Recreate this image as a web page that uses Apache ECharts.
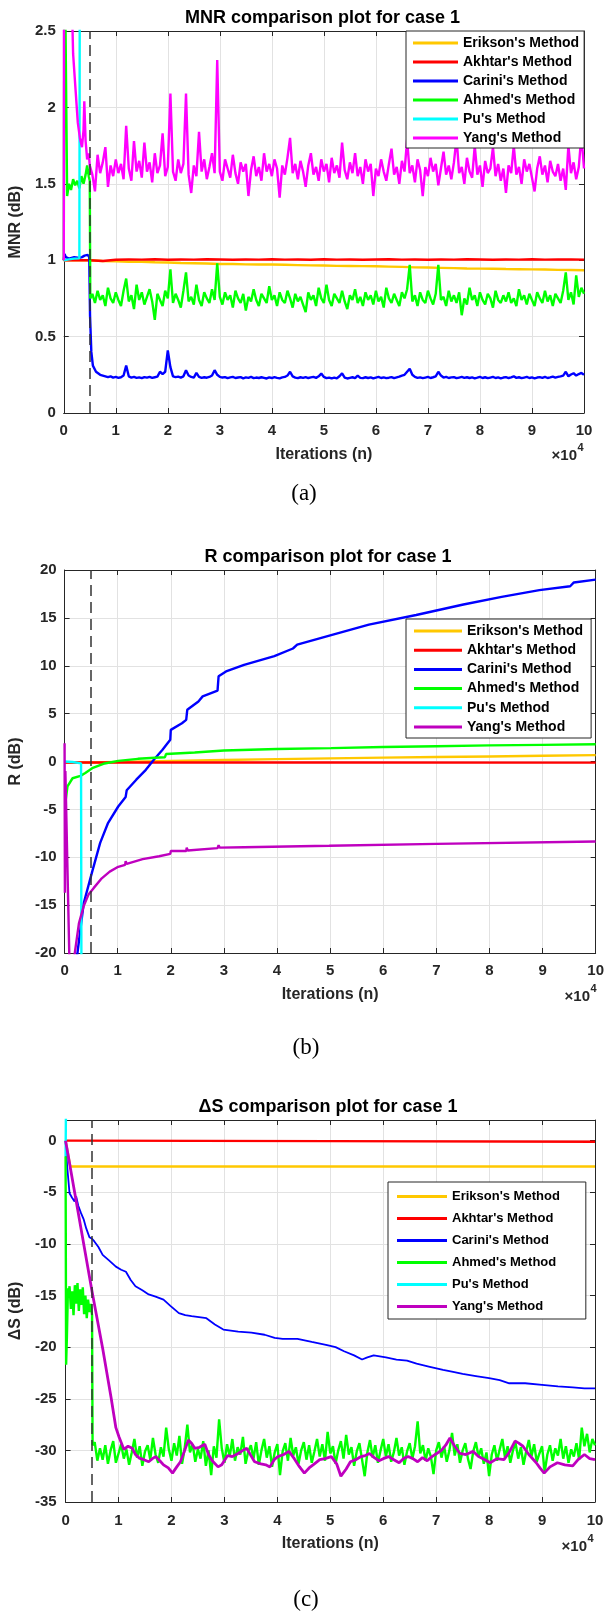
<!DOCTYPE html>
<html>
<head>
<meta charset="utf-8">
<script src="https://cdn.jsdelivr.net/npm/echarts@6/dist/echarts.min.js"></script>
<style>
  html, body { margin: 0; padding: 0; background: #fff; }
  #chart { width: 607px; height: 1611px; }
</style>
</head>
<body>
<div id="chart"></div>
<script>
// ---------- shared labels ----------
const methodNames = ["Erikson's Method", "Akhtar's Method", "Carini's Method", "Ahmed's Method", "Pu's Method", "Yang's Method"];
const panelTitles = ["MNR comparison plot for case 1", "R comparison plot for case 1", "\u0394S comparison plot for case 1"];
const yAxisNames = ["MNR (dB)", "R (dB)", "\u0394S (dB)"];
const xAxisName = "Iterations (n)";
const panelTags = ["(a)", "(b)", "(c)"];
const switchIteration = 5000;          // dashed marker
const xTickDivisor = 10000;            // labels shown as multiples of 10^4

// ---------- (a) MNR ----------
const mnrEriksonStart = 0, mnrEriksonStep = 2500;
const mnrErikson = [1.0,1.0,1.0,0.995,0.993,0.99,0.99,0.987,0.985,0.982,
  0.98,0.978,0.975,0.975,0.973,0.972,0.972,0.97,0.968,0.966,
  0.965,0.963,0.962,0.961,0.96,0.958,0.956,0.953,0.952,0.95,
  0.948,0.946,0.945,0.944,0.942,0.941,0.94,0.939,0.937,0.936,0.934];
const mnrAkhtarStart = 0, mnrAkhtarStep = 2500;
const mnrAkhtar = [1.0,1.0,1.0,0.995,1.003,1.005,1.004,1.006,1.003,1.005,
  1.004,1.006,1.005,1.003,1.005,1.004,1.006,1.004,1.005,1.003,
  1.006,1.004,1.005,1.003,1.005,1.006,1.004,1.005,1.003,1.005,
  1.004,1.006,1.005,1.003,1.005,1.004,1.006,1.004,1.005,1.005,1.004];
const mnrCariniHead = [[0,1.0],[150,1.04],[400,1.02],[1000,1.01],[2000,1.02],[3000,1.015],[3500,1.02],[4000,1.03],[4300,1.02],[4600,1.035],[4900,1.02],[5050,0.64],[5300,0.4],[5600,0.31],[6200,0.27],[7000,0.25]];
const mnrCariniStart = 7500, mnrCariniStep = 500;
const mnrCarini = [0.245,0.24,0.235,0.24,0.232,0.236,0.23,0.234,0.245,0.31,
  0.24,0.232,0.236,0.23,0.233,0.228,0.235,0.231,0.236,0.23,
  0.234,0.238,0.27,0.255,0.27,0.41,0.30,0.24,0.235,0.238,
  0.232,0.24,0.28,0.245,0.236,0.232,0.262,0.236,0.23,0.234,
  0.231,0.236,0.245,0.28,0.25,0.236,0.232,0.235,0.228,0.233,
  0.236,0.229,0.232,0.235,0.227,0.233,0.23,0.236,0.228,0.232,
  0.229,0.234,0.23,0.226,0.233,0.229,0.235,0.23,0.227,0.233,
  0.236,0.245,0.27,0.24,0.232,0.228,0.234,0.23,0.235,0.229,
  0.233,0.236,0.23,0.24,0.258,0.236,0.228,0.232,0.226,0.231,
  0.227,0.24,0.26,0.232,0.226,0.23,0.234,0.228,0.245,0.23,
  0.228,0.234,0.229,0.233,0.226,0.232,0.236,0.229,0.233,0.228,
  0.231,0.235,0.228,0.233,0.238,0.245,0.25,0.27,0.29,0.25,
  0.236,0.23,0.233,0.228,0.232,0.236,0.229,0.234,0.24,0.27,
  0.245,0.232,0.236,0.229,0.233,0.235,0.228,0.232,0.236,0.23,
  0.234,0.229,0.233,0.227,0.231,0.236,0.229,0.234,0.228,0.232,
  0.236,0.229,0.233,0.227,0.232,0.235,0.229,0.233,0.24,0.23,
  0.234,0.228,0.232,0.236,0.229,0.233,0.227,0.232,0.235,0.23,
  0.236,0.229,0.233,0.238,0.232,0.236,0.24,0.245,0.27,0.24,
  0.252,0.26,0.245,0.255,0.262,0.25];
const mnrAhmedHead = [[0,1.0],[150,3.2],[500,3.2],[650,1.42],[1000,1.5],[1400,1.46],[1800,1.53],[2200,1.49],[2600,1.52],[3000,1.47],[3400,1.55],[3800,1.5],[4200,1.56],[4500,1.62],[4800,1.55],[5000,1.52],[5100,0.75]];
const mnrAhmedStart = 5500, mnrAhmedStep = 500;
const mnrAhmed = [0.78,0.72,0.80,0.74,0.77,0.70,0.82,0.75,0.72,0.79,
  0.74,0.70,0.80,0.88,0.73,0.77,0.68,0.84,0.74,0.79,
  0.71,0.76,0.81,0.73,0.61,0.78,0.74,0.70,0.80,0.75,
  0.94,0.72,0.78,0.74,0.69,0.80,0.92,0.73,0.76,0.71,
  0.84,0.74,0.70,0.79,0.75,0.72,0.81,0.74,0.98,0.76,
  0.71,0.79,0.74,0.77,0.69,0.80,0.75,0.72,0.78,0.67,
  0.76,0.73,0.81,0.74,0.70,0.78,0.75,0.72,0.83,0.74,
  0.77,0.70,0.79,0.74,0.72,0.80,0.75,0.69,0.78,0.73,
  0.76,0.71,0.66,0.79,0.74,0.77,0.70,0.82,0.75,0.72,
  0.84,0.74,0.70,0.78,0.75,0.72,0.80,0.73,0.68,0.77,
  0.74,0.81,0.72,0.76,0.70,0.79,0.74,0.77,0.71,0.80,
  0.73,0.76,0.69,0.82,0.75,0.72,0.78,0.74,0.70,0.79,
  0.75,0.81,0.97,0.73,0.77,0.70,0.79,0.74,0.72,0.80,
  0.75,0.71,0.78,0.97,0.74,0.76,0.70,0.80,0.73,0.77,
  0.72,0.79,0.64,0.75,0.71,0.82,0.74,0.77,0.70,0.79,
  0.74,0.71,0.78,0.75,0.69,0.80,0.74,0.72,0.77,0.73,
  0.79,0.72,0.75,0.70,0.81,0.74,0.77,0.71,0.78,0.74,
  0.70,0.79,0.75,0.72,0.80,0.73,0.77,0.70,0.78,0.75,
  0.72,0.80,0.92,0.74,0.79,0.71,0.90,0.76,0.82,0.78];
const mnrPu = [[0,1.0],[1000,1.005],[2000,1.01],[3000,1.012],[3100,3.2],[100000,3.2]];
const mnrYangHead = [[0,1.0],[60,3.2],[1200,3.2],[1800,2.35],[2300,2.1],[2700,1.9],[3100,1.8],[3500,1.74],[3800,1.85],[3950,2.04],[4200,1.78],[4500,1.66],[4800,1.7]];
const mnrYangStart = 5000, mnrYangStep = 500;
const mnrYang = [1.62,1.56,1.45,1.69,1.57,1.64,1.74,1.48,1.62,1.55,
  1.66,1.57,1.63,1.53,1.88,1.60,1.52,1.78,1.58,1.65,
  1.54,1.77,1.58,1.64,1.51,1.70,1.57,1.62,1.83,1.55,
  1.61,2.09,1.58,1.52,1.66,1.57,1.63,2.09,1.56,1.44,
  1.62,1.55,1.84,1.58,1.66,1.53,1.61,1.70,1.57,2.31,
  1.58,1.52,1.66,1.60,1.54,1.69,1.57,1.50,1.64,1.58,
  1.63,1.42,1.59,1.68,1.55,1.61,1.52,1.70,1.58,1.63,
  1.55,1.66,1.60,1.41,1.62,1.56,1.67,1.80,1.57,1.63,
  1.53,1.65,1.58,1.48,1.62,1.70,1.56,1.61,1.52,1.66,
  1.58,1.63,1.51,1.67,1.57,1.62,1.54,1.77,1.59,1.53,
  1.64,1.57,1.70,1.55,1.61,1.50,1.66,1.58,1.63,1.42,
  1.60,1.55,1.66,1.58,1.52,1.63,1.73,1.56,1.61,1.50,
  1.65,1.58,1.79,1.57,1.62,1.51,1.66,1.59,1.42,1.61,
  1.55,1.67,1.58,1.63,1.49,1.60,1.71,1.56,1.62,1.53,
  1.64,1.80,1.57,1.61,1.50,1.67,1.58,1.54,1.75,1.56,
  1.62,1.48,1.65,1.57,1.60,1.74,1.55,1.63,1.52,1.60,
  1.44,1.62,1.57,1.75,1.56,1.61,1.50,1.66,1.58,1.63,
  1.54,1.45,1.60,1.68,1.56,1.62,1.51,1.65,1.58,1.55,
  1.63,1.52,1.60,1.46,1.75,1.57,1.64,1.53,1.61,1.82,1.60];

// ---------- (b) R ----------
const rErikson = [[0,-0.1],[5000,-0.1],[10000,-0.05],[20000,0.05],[30000,0.15],[40000,0.25],[50000,0.33],[60000,0.4],[70000,0.47],[80000,0.53],[90000,0.6],[100000,0.67]];
const rAkhtar = [[0,-0.1],[50000,-0.11],[100000,-0.12]];
const rCarini = [[2200,-21],[3600,-14.8],[5200,-11.5],[6700,-8.5],[8200,-6.4],[10100,-4.7],[11500,-3.7],[11700,-3.0],[13500,-1.9],[15300,-0.87],[16800,0.18],[18400,1.2],[19900,2.27],[20000,3.3],[22100,4.0],[22900,4.35],[23100,5.4],[25200,6.27],[26000,6.8],[28800,7.4],[29000,8.9],[30400,9.4],[33800,10.1],[39500,11.0],[43000,11.8],[43800,12.2],[50200,13.2],[57300,14.3],[66200,15.3],[75100,16.4],[82300,17.2],[89400,17.9],[95200,18.3],[95900,18.7],[100000,19.0]];
const rAhmed = [[150,-4.3],[550,-2.6],[1500,-1.75],[3000,-1.5],[3900,-1.2],[5200,-0.7],[7300,-0.24],[10100,0.07],[13800,0.28],[17800,0.42],[18900,0.45],[19100,0.78],[24500,0.94],[30000,1.15],[40000,1.3],[50200,1.4],[60000,1.52],[70000,1.6],[80000,1.68],[90000,1.74],[100000,1.8]];
const rPu = [[0,0],[1500,-0.05],[3100,-0.2],[3200,-30],[100000,-30]];
const rYang = [[0,1.9],[60,-13.7],[150,-1.0],[900,-20.5],[1800,-20.5],[2700,-16.9],[3600,-15.1],[4500,-13.9],[5500,-13.2],[7000,-12.2],[8500,-11.5],[10100,-11.0],[11400,-10.8],[11500,-10.4],[11700,-10.7],[14700,-10.2],[17800,-9.9],[19900,-9.65],[20000,-9.35],[20200,-9.55],[22900,-9.35],[23000,-9.0],[23200,-9.3],[28800,-9.05],[29000,-8.75],[29200,-9.0],[33800,-8.95],[49800,-8.8],[70000,-8.6],[100000,-8.35]];

// ---------- (c) Delta S ----------
const dsErikson = [[0,0],[900,-2.5],[100000,-2.5]];
const dsAkhtar = [[0,0],[50000,-0.05],[100000,-0.1]];
const dsCarini = [[0,0],[300,-2.5],[750,-5.1],[1200,-5.5],[1700,-5.9],[2000,-5.4],[2400,-6.3],[2900,-7.0],[3400,-7.6],[3900,-8.5],[4500,-9.35],[5000,-9.5],[5400,-9.74],[6200,-10.3],[7000,-11.06],[8200,-11.6],[9500,-12.2],[10500,-12.5],[11400,-12.7],[12300,-13.5],[13200,-14.1],[14500,-14.5],[15700,-14.9],[17000,-15.1],[18500,-15.4],[19800,-16.0],[21400,-16.7],[22600,-16.9],[23800,-17.0],[25200,-17.1],[26600,-17.2],[28200,-17.8],[29800,-18.3],[31200,-18.4],[32600,-18.5],[35100,-18.6],[37600,-18.8],[39500,-19.1],[41000,-19.2],[43800,-19.2],[46500,-19.5],[49400,-19.8],[51000,-20.0],[52600,-20.4],[54500,-20.8],[56000,-21.2],[57000,-21.0],[58200,-20.8],[60500,-21.0],[62500,-21.2],[64500,-21.3],[66300,-21.6],[68800,-21.9],[71300,-22.2],[73200,-22.4],[75000,-22.6],[77500,-22.8],[80000,-23.0],[82000,-23.2],[83800,-23.5],[86800,-23.5],[90000,-23.65],[93000,-23.8],[95800,-23.9],[98000,-24.0],[100000,-24.0]];
const dsAhmedHead = [[0,-1.5],[100,-21.7],[250,-19.0],[450,-14.3],[500,-15.2],[750,-14.1],[1000,-16.3],[1250,-14.6],[1500,-16.9],[1750,-14.0],[2000,-15.8],[2250,-13.8],[2500,-16.5],[2750,-14.4],[3000,-15.9],[3250,-14.2],[3500,-16.8],[3750,-15.0],[4000,-17.2],[4250,-15.4],[4500,-16.6],[4750,-15.8],[5000,-16.9],[5100,-29.5]];
const dsAhmedStart = 5500, dsAhmedStep = 500;
const dsAhmed = [-29.2,-31.0,-29.8,-30.9,-29.5,-31.3,-30.0,-29.1,-31.2,-30.3,
  -29.4,-30.8,-29.9,-31.4,-30.2,-28.9,-30.7,-29.6,-31.5,-30.1,
  -29.5,-30.9,-28.8,-30.4,-31.2,-29.7,-30.6,-27.8,-29.9,-31.0,
  -29.3,-30.5,-28.6,-31.3,-29.8,-27.5,-30.2,-29.4,-31.1,-29.9,
  -30.8,-29.1,-31.5,-30.0,-32.4,-29.6,-30.7,-27.0,-29.8,-31.2,
  -29.4,-30.6,-28.9,-31.0,-29.7,-30.4,-28.7,-31.3,-30.1,-29.5,
  -30.8,-29.2,-31.4,-30.0,-28.9,-30.7,-29.6,-31.6,-30.2,-29.4,
  -32.4,-30.1,-29.3,-31.0,-28.8,-30.5,-29.7,-31.3,-30.0,-29.2,
  -30.9,-29.5,-31.2,-30.1,-28.9,-30.6,-29.4,-31.0,-28.2,-30.3,
  -29.6,-31.3,-30.0,-29.1,-30.8,-28.5,-30.4,-29.7,-31.5,-30.1,
  -29.3,-30.9,-32.5,-30.2,-29.0,-30.7,-29.5,-31.2,-30.0,-28.9,
  -30.6,-29.4,-31.1,-30.2,-28.8,-30.5,-29.7,-31.4,-30.1,-29.3,
  -30.8,-29.6,-27.2,-30.3,-29.5,-31.0,-29.8,-30.6,-32.3,-30.0,
  -29.2,-30.7,-29.6,-31.1,-30.0,-28.3,-30.5,-29.4,-31.2,-30.0,
  -29.3,-30.8,-31.8,-30.1,-29.2,-30.6,-29.8,-31.3,-30.2,-32.5,
  -30.4,-29.5,-31.0,-29.9,-28.9,-30.7,-29.6,-31.2,-30.0,-29.3,
  -30.8,-29.7,-31.4,-30.1,-29.0,-30.6,-29.4,-31.1,-30.3,-29.6,
  -32.1,-30.4,-29.5,-31.0,-29.8,-30.5,-28.9,-30.8,-29.6,-31.2,
  -29.9,-30.6,-29.3,-30.9,-27.8,-29.6,-28.4,-30.2,-28.9,-29.5];
const dsPu = [[0,-1.5],[120,6],[100000,6]];
const dsYang = [[0,0],[5000,-14.6],[7000,-20.1],[8600,-24.9],[9500,-27.8],[10100,-28.7],[11000,-29.9],[11800,-29.6],[12600,-29.8],[13200,-30.4],[13900,-30.75],[14800,-30.9],[15700,-31.1],[16400,-30.8],[17000,-30.6],[17800,-31.0],[18500,-31.4],[19400,-31.7],[20200,-32.2],[21000,-31.6],[21700,-31.1],[22500,-30.0],[23200,-29.0],[23800,-29.3],[24400,-29.8],[25300,-29.7],[26300,-29.4],[27000,-30.4],[27700,-31.0],[28800,-31.6],[29500,-31.4],[30600,-30.5],[31500,-30.6],[32600,-30.3],[33500,-30.0],[34200,-29.8],[35000,-30.5],[35700,-31.1],[36900,-31.3],[37800,-31.4],[38600,-31.6],[39400,-30.9],[40100,-30.6],[41200,-30.4],[42200,-30.1],[43200,-30.8],[44200,-31.6],[45100,-32.2],[46000,-31.7],[47000,-31.3],[48000,-30.9],[49000,-30.8],[50200,-30.6],[51200,-31.3],[52000,-32.5],[53000,-31.8],[53800,-31.1],[54800,-30.9],[55800,-30.6],[56600,-30.5],[57400,-30.3],[58300,-30.7],[59200,-31.0],[60000,-30.8],[61000,-30.6],[62000,-30.9],[63000,-31.2],[63800,-30.8],[64700,-30.6],[65600,-30.8],[66500,-31.1],[67400,-30.7],[68300,-31.0],[69200,-30.6],[70100,-30.3],[71000,-30.0],[71800,-29.5],[72600,-28.8],[73500,-29.6],[74500,-30.3],[75600,-30.4],[77000,-30.1],[78000,-30.6],[79200,-30.9],[80200,-31.2],[81500,-30.8],[82800,-30.9],[83800,-30.2],[84900,-29.1],[85600,-29.3],[86400,-29.6],[87500,-30.4],[88900,-31.2],[89600,-31.7],[90400,-32.2],[91500,-31.6],[92900,-31.2],[94300,-31.4],[95800,-31.5],[96800,-30.9],[98000,-30.4],[99000,-30.8],[100000,-30.9]];

// ---------- axis ranges ----------
const xRange = { min: 0, max: 100000, interval: 10000 };
const yRanges = [
  { min: 0, max: 2.5, interval: 0.5 },
  { min: -20, max: 20, interval: 5 },
  { min: -35, max: 2, interval: 5 }
];

// ---------- helpers ----------
const seq = (start, step, values) => values.map((v, i) => [start + i * step, v]);

const FONT = "'Liberation Sans', Arial, Helvetica, sans-serif";
const AXIS_COLOR = '#262626';
const GRID_COLOR = '#e2e2e2';
const colors = {
  erikson: '#FFC800', akhtar: '#FF0000', carini: '#0000FF',
  ahmed: '#00FF00', pu: '#00FFFF', yangA: '#FF00FF', yangBC: '#BF00BF'
};
const LW = 2.4;   // default trace width

const panels = [
  { grid: { left: 61, top: 31, width: 523, height: 382 }, nameGap: 34, xLabelMargin: 10, yLabelMargin: 8 },
  { grid: { left: 57, top: 570, width: 542, height: 383 }, nameGap: 34, xLabelMargin: 10, yLabelMargin: 8 },
  { grid: { left: 61, top: 1120, width: 534, height: 382 }, nameGap: 36, xLabelMargin: 11, yLabelMargin: 9 }
];

function lineSeries(name, color, data, idx, width) {
  return {
    name, type: 'line', data, xAxisIndex: idx, yAxisIndex: idx,
    symbol: 'none', showSymbol: false, clip: true, animation: false,
    lineStyle: { color, width: width || LW }, itemStyle: { color },
    emphasis: { disabled: true }
  };
}

function switchMarker(idx) {
  return {
    name: 'switch', type: 'line', data: [], xAxisIndex: idx, yAxisIndex: idx, z: 5,
    markLine: {
      silent: true, symbol: ['none', 'none'], animation: false,
      label: { show: false },
      lineStyle: { color: '#333', type: [11, 6], width: 1.5 },
      data: [{ xAxis: switchIteration }]
    }
  };
}

const series = [
  lineSeries(methodNames[0], colors.erikson, seq(mnrEriksonStart, mnrEriksonStep, mnrErikson), 0),
  lineSeries(methodNames[1], colors.akhtar, seq(mnrAkhtarStart, mnrAkhtarStep, mnrAkhtar), 0),
  lineSeries(methodNames[2], colors.carini, mnrCariniHead.concat(seq(mnrCariniStart, mnrCariniStep, mnrCarini)), 0),
  lineSeries(methodNames[3], colors.ahmed, mnrAhmedHead.concat(seq(mnrAhmedStart, mnrAhmedStep, mnrAhmed)), 0),
  lineSeries(methodNames[4], colors.pu, mnrPu, 0),
  lineSeries(methodNames[5], colors.yangA, mnrYangHead.concat(seq(mnrYangStart, mnrYangStep, mnrYang)), 0),
  switchMarker(0),

  lineSeries(methodNames[0], colors.erikson, rErikson, 1),
  lineSeries(methodNames[1], colors.akhtar, rAkhtar, 1),
  lineSeries(methodNames[2], colors.carini, rCarini, 1),
  lineSeries(methodNames[3], colors.ahmed, rAhmed, 1),
  lineSeries(methodNames[4], colors.pu, rPu, 1),
  lineSeries(methodNames[5], colors.yangBC, rYang, 1),
  switchMarker(1),

  lineSeries(methodNames[0], colors.erikson, dsErikson, 2),
  lineSeries(methodNames[1], colors.akhtar, dsAkhtar, 2),
  lineSeries(methodNames[2], colors.carini, dsCarini, 2, 1.8),
  lineSeries(methodNames[3], colors.ahmed, dsAhmedHead.concat(seq(dsAhmedStart, dsAhmedStep, dsAhmed)), 2),
  lineSeries(methodNames[4], colors.pu, dsPu, 2),
  lineSeries(methodNames[5], colors.yangBC, dsYang, 2, 2.8),
  switchMarker(2)
];

const xAxes = [], yAxes = [];
panels.forEach((p, i) => {
  const yr = yRanges[i];
  xAxes.push({
    type: 'value', gridIndex: i, position: 'bottom', ...xRange,
    name: xAxisName, nameLocation: 'middle', nameGap: 34,
    nameTextStyle: { fontFamily: FONT, fontWeight: 'bold', fontSize: 16, color: AXIS_COLOR },
    axisLine: { show: true, onZero: false, lineStyle: { color: AXIS_COLOR, width: 1 } },
    axisTick: { show: true, inside: true, length: 5, lineStyle: { color: AXIS_COLOR } },
    axisLabel: { show: true, margin: p.xLabelMargin, fontFamily: FONT, fontWeight: 'bold', fontSize: 15, color: AXIS_COLOR,
      formatter: v => String(v / xTickDivisor) },
    splitLine: { show: true, lineStyle: { color: GRID_COLOR, width: 1 } }
  });
  yAxes.push({
    type: 'value', gridIndex: i, position: 'left', ...yr,
    name: yAxisNames[i], nameLocation: 'middle', nameGap: p.nameGap,
    nameTextStyle: { fontFamily: FONT, fontWeight: 'bold', fontSize: 16, color: AXIS_COLOR },
    axisLine: { show: true, onZero: false, lineStyle: { color: AXIS_COLOR, width: 1 } },
    axisTick: { show: true, inside: true, length: 5, lineStyle: { color: AXIS_COLOR } },
    axisLabel: { show: true, margin: p.yLabelMargin, fontFamily: FONT, fontWeight: 'bold', fontSize: 15, color: AXIS_COLOR,
      // only values on the tick grid counted from min are labelled
      formatter: v => {
        const k = (v - yr.min) / yr.interval;
        return Math.abs(k - Math.round(k)) < 1e-6 ? String(v) : '';
      } },
    splitLine: { show: true, lineStyle: { color: GRID_COLOR, width: 1 } }
  });
});
// mirrored axes for the box with ticks on top and right
panels.forEach((p, i) => {
  xAxes.push({
    type: 'value', gridIndex: i, position: 'top', ...xRange,
    axisLine: { show: true, onZero: false, lineStyle: { color: AXIS_COLOR, width: 1 } },
    axisTick: { show: true, inside: true, length: 5, lineStyle: { color: AXIS_COLOR } },
    axisLabel: { show: false }, splitLine: { show: false }
  });
  yAxes.push({
    type: 'value', gridIndex: i, position: 'right', ...yRanges[i],
    axisLine: { show: true, onZero: false, lineStyle: { color: AXIS_COLOR, width: 1 } },
    axisTick: { show: true, inside: true, length: 5, lineStyle: { color: AXIS_COLOR } },
    axisLabel: { show: false }, splitLine: { show: false }
  });
});

function legendData(yangColor) {
  const cs = [colors.erikson, colors.akhtar, colors.carini, colors.ahmed, colors.pu, yangColor];
  return methodNames.map((n, k) => ({ name: n, icon: 'rect', itemStyle: { color: cs[k], borderWidth: 0 } }));
}
function legendBox(cfg) {
  return Object.assign({
    orient: 'vertical', selectedMode: false, icon: 'rect', itemHeight: 3,
    backgroundColor: '#fff', borderColor: AXIS_COLOR, borderWidth: 1, borderRadius: 0, z: 10
  }, cfg);
}

const legends = [
  legendBox({ left: 406, top: 31, padding: [5, 5, 3, 7], itemWidth: 45, itemGap: 5,
    textStyle: { fontFamily: FONT, fontWeight: 'bold', fontSize: 14, color: '#000' }, data: legendData(colors.yangA) }),
  legendBox({ left: 406, top: 619, padding: [5, 8, 4, 8], itemWidth: 48, itemGap: 5.2,
    textStyle: { fontFamily: FONT, fontWeight: 'bold', fontSize: 14, color: '#000' }, data: legendData(colors.yangBC) }),
  legendBox({ left: 388, top: 1182, padding: [8, 26, 6, 9], itemWidth: 50, itemGap: 9,
    textStyle: { fontFamily: FONT, fontWeight: 'bold', fontSize: 13, color: '#000' }, data: legendData(colors.yangBC) })
];

function txt(x, y, text, size, weight, family, align, vAlign, color) {
  return {
    type: 'text', x, y, silent: true, z: 20,
    style: { text, fontSize: size, fontWeight: weight, fontFamily: family, fill: color || '#000',
      textAlign: align, align, textVerticalAlign: vAlign, verticalAlign: vAlign }
  };
}
const SERIF = "'Liberation Serif', 'Times New Roman', serif";
const graphics = [
  txt(322.5, 18, panelTitles[0], 18, 'bold', FONT, 'center', 'middle'),
  txt(328, 557, panelTitles[1], 18, 'bold', FONT, 'center', 'middle'),
  txt(328, 1107, panelTitles[2], 18, 'bold', FONT, 'center', 'middle'),
  txt(577, 456, '\u00d710', 15, 'bold', FONT, 'right', 'middle', AXIS_COLOR),
  txt(577.5, 448, '4', 11, 'bold', FONT, 'left', 'middle', AXIS_COLOR),
  txt(590, 997, '\u00d710', 15, 'bold', FONT, 'right', 'middle', AXIS_COLOR),
  txt(590.5, 989, '4', 11, 'bold', FONT, 'left', 'middle', AXIS_COLOR),
  txt(587, 1547, '\u00d710', 15, 'bold', FONT, 'right', 'middle', AXIS_COLOR),
  txt(587.5, 1539, '4', 11, 'bold', FONT, 'left', 'middle', AXIS_COLOR),
  txt(304, 494, panelTags[0], 23, 'normal', SERIF, 'center', 'middle'),
  txt(306, 1048, panelTags[1], 23, 'normal', SERIF, 'center', 'middle'),
  txt(306, 1600, panelTags[2], 23, 'normal', SERIF, 'center', 'middle')
];

const chart = echarts.init(document.getElementById('chart'), null, { renderer: 'canvas', width: 607, height: 1611 });
chart.setOption({
  animation: false,
  backgroundColor: '#fff',
  grid: panels.map(p => Object.assign({ containLabel: false, show: false }, p.grid)),
  xAxis: xAxes,
  yAxis: yAxes,
  legend: legends,
  series,
  graphic: graphics
});
</script>
</body>
</html>
